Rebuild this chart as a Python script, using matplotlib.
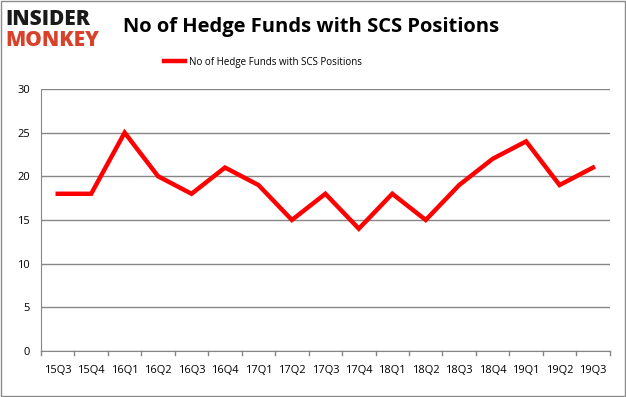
import matplotlib
matplotlib.use("Agg")
import matplotlib.pyplot as plt
from matplotlib.patches import Rectangle

# Данные
quarters = ["15Q3", "15Q4", "16Q1", "16Q2", "16Q3", "16Q4", "17Q1", "17Q2", "17Q3",
            "17Q4", "18Q1", "18Q2", "18Q3", "18Q4", "19Q1", "19Q2", "19Q3"]
funds = [18, 18, 25, 20, 18, 21, 19, 15, 18, 14, 18, 15, 19, 22, 24, 19, 21]
y_ticks = [0, 5, 10, 15, 20, 25, 30]

series_name = "No of Hedge Funds with SCS Positions"

plt.rcParams['font.family'] = ['Open Sans', 'DejaVu Sans']

fig = plt.figure(figsize=(6.26, 3.97), dpi=100)
ax = fig.add_axes([0.0655, 0.1159, 0.9085, 0.66])

x = list(range(len(quarters)))
line, = ax.plot(x, funds, color='#ff0000', linewidth=3.2, solid_joinstyle='miter',
                label=series_name)

ax.set_xlim(-0.5, len(quarters) - 0.5)
ax.set_ylim(0, 30)
ax.set_yticks(y_ticks)
ax.set_xticks(x)
ax.set_xticklabels(quarters, fontsize=8)
ax.tick_params(axis='y', labelsize=8, length=0, pad=8)
ax.tick_params(axis='x', length=0, pad=10)

# Штрихи между категориями
for b in [i - 0.5 for i in range(len(quarters) + 1)]:
    ax.plot([b, b], [0, -0.5], color='#868686', linewidth=1, clip_on=False)

ax.grid(axis='y', color='#868686', linewidth=1)
ax.set_axisbelow(True)
for side in ['top', 'right']:
    ax.spines[side].set_visible(False)
ax.spines['left'].set_color('#868686')
ax.spines['bottom'].set_color('#868686')

# Заголовок и легенда
fig.text(0.497, 0.932, series_name, ha='center', va='center',
         fontsize=14.5, fontweight='bold')
fig.legend(handles=[line], loc='center', bbox_to_anchor=(0.42, 0.843),
           frameon=False, fontsize=7, handlelength=2.2, handletextpad=0.4)

# Логотип
fig.text(0.008, 0.952, "INSIDER", ha='left', va='center', fontsize=15,
         fontweight='heavy', color='#1a1a1a')
fig.text(0.008, 0.898, "MONKEY", ha='left', va='center', fontsize=15,
         fontweight='heavy', color='#d9412b')

# Рамка вокруг рисунка
fig.patches.append(Rectangle((0.002, 0.002), 0.996, 0.996, transform=fig.transFigure,
                             fill=False, edgecolor='#8c8c8c', linewidth=1))

fig.savefig("out.png", dpi=100)
